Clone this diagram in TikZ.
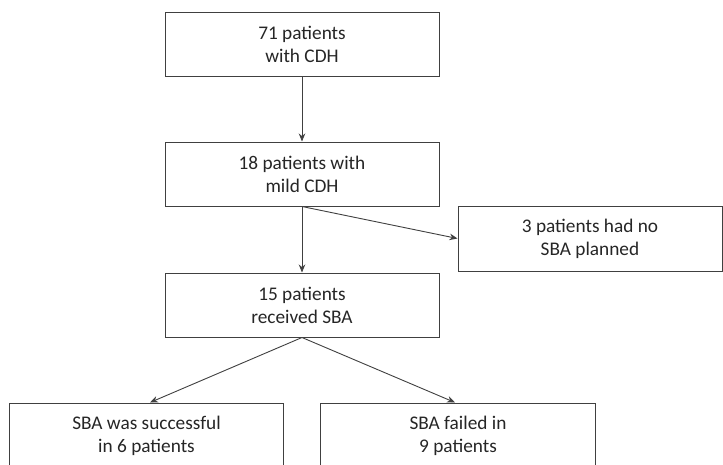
\documentclass[tikz,border=0pt]{standalone}
\usepackage{fontspec}
\setmainfont{Carlito}
\usetikzlibrary{arrows.meta}
\definecolor{edgegray}{HTML}{404040}
\definecolor{textgray}{HTML}{262626}
\tikzset{
  flowbox/.style={draw=edgegray, line width=1pt, rectangle, align=center,
    text=textgray, inner sep=0pt,
    font=\fontsize{19.3}{23}\selectfont},
  flowarrow/.style={draw=edgegray, line width=0.9pt,
    -{Stealth[length=8pt,width=6.5pt]}}
}
\begin{document}
\begin{tikzpicture}[x=1pt,y=-1pt]
  \clip (0,0) rectangle (723,464);
  \fill[white] (0,0) rectangle (723,464);

  \node[flowbox, minimum width=274pt, minimum height=64pt] (all) at (302,44)
    {71 patients\\with CDH};
  \node[flowbox, minimum width=274pt, minimum height=64pt] (mild) at (302,174)
    {18 patients with\\mild CDH};
  \node[flowbox, minimum width=264pt, minimum height=65pt] (none) at (590,238.5)
    {3 patients had no\\SBA planned};
  \node[flowbox, minimum width=274pt, minimum height=64pt] (sba) at (302,305)
    {15 patients\\received SBA};
  \node[flowbox, minimum width=274pt, minimum height=65pt] (ok) at (146.5,435.5)
    {SBA was successful\\in 6 patients};
  \node[flowbox, minimum width=274.5pt, minimum height=65pt] (fail) at (458,435.5)
    {SBA failed in\\9 patients};

  \draw[flowarrow] (all.south) -- (mild.north);
  \draw[flowarrow] (mild.south) -- (sba.north);
  \draw[flowarrow] (mild.south) -- (none.west);
  \draw[flowarrow] (sba.south) -- ([xshift=3.5pt]ok.north);
  \draw[flowarrow] (sba.south) -- ([xshift=-3pt]fail.north);
\end{tikzpicture}
\end{document}
